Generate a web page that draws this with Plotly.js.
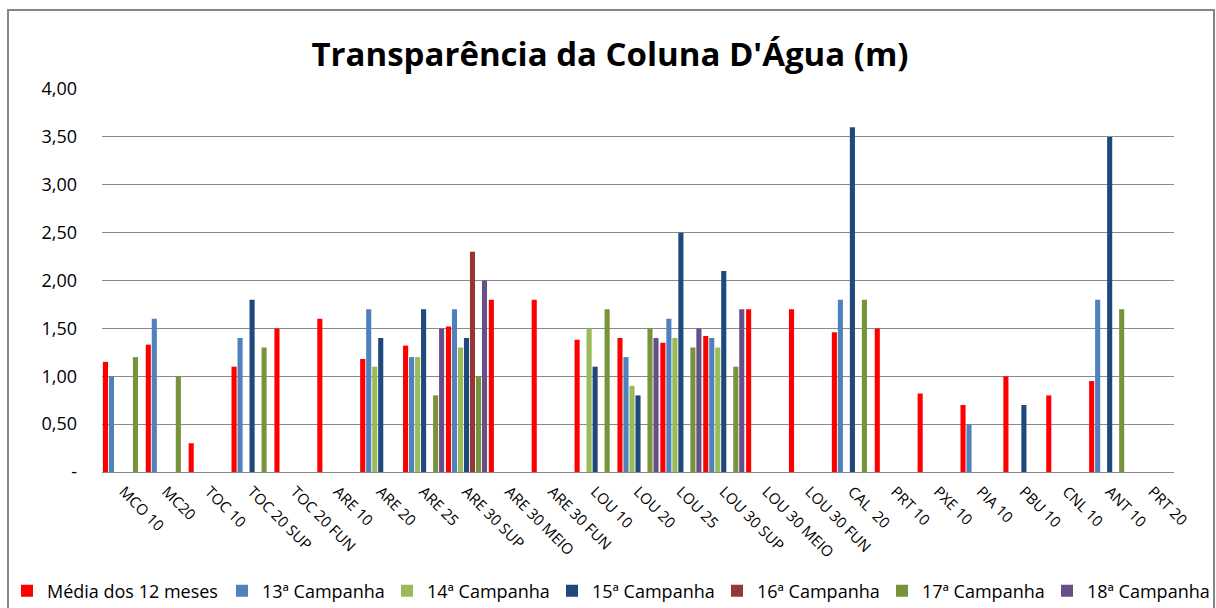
<!DOCTYPE html>
<html>
<head>
<meta charset="utf-8">
<script src="https://cdn.plot.ly/plotly-3.0.1.min.js"></script>
<style>
  html, body { margin: 0; padding: 0; background: #fff; }
  #chart { width: 1216px; height: 608px; }
</style>
</head>
<body>
<div id="chart"></div>
<script>
const categories = ["MCO 10", "MC20", "TOC 10", "TOC 20 SUP", "TOC 20 FUN", "ARE 10", "ARE 20", "ARE 25",
  "ARE 30 SUP", "ARE 30 MEIO", "ARE 30 FUN", "LOU 10", "LOU 20", "LOU 25", "LOU 30 SUP", "LOU 30 MEIO",
  "LOU 30 FUN", "CAL  20", "PRT 10", "PXE 10", "PIA 10", "PBU 10", "CNL 10", "ANT 10", "PRT 20"];

const media12 = [1.15, 1.33, 0.30, 1.10, 1.50, 1.60, 1.18, 1.32, 1.52, 1.80, 1.80, 1.38, 1.40, 1.35, 1.42, 1.70,
  1.70, 1.46, 1.50, 0.82, 0.70, 1.00, 0.80, 0.95, null];
const camp13 = [1.00, 1.60, null, 1.40, null, null, 1.70, 1.20, 1.70, null, null, null, 1.20, 1.60, 1.40, null,
  null, 1.80, null, null, 0.50, null, null, 1.80, null];
const camp14 = [null, null, null, null, null, null, 1.10, 1.20, 1.30, null, null, 1.50, 0.90, 1.40, 1.30, null,
  null, null, null, null, null, null, null, null, null];
const camp15 = [null, null, null, 1.80, null, null, 1.40, 1.70, 1.40, null, null, 1.10, 0.80, 2.50, 2.10, null,
  null, 3.60, null, null, null, 0.70, null, 3.50, null];
const camp16 = [null, null, null, null, null, null, null, null, 2.30, null, null, null, null, null, null, null,
  null, null, null, null, null, null, null, null, null];
const camp17 = [1.20, 1.00, null, 1.30, null, null, null, 0.80, 1.00, null, null, 1.70, 1.50, 1.30, 1.10, null,
  null, 1.80, null, null, null, null, null, 1.70, null];
const camp18 = [null, null, null, null, null, null, null, 1.50, 2.00, null, null, null, 1.40, 1.50, 1.70, null,
  null, null, null, null, null, null, null, null, null];

const seriesNames = ["Média dos 12 meses", "13ª Campanha", "14ª Campanha", "15ª Campanha",
  "16ª Campanha", "17ª Campanha", "18ª Campanha"];
const seriesValues = [media12, camp13, camp14, camp15, camp16, camp17, camp18];
const seriesColors = ["#FF0000", "#4F81BD", "#9BBB59", "#1F497D", "#953735", "#77933C", "#664E87"];

const yTickVals = [0, 0.5, 1, 1.5, 2, 2.5, 3, 3.5, 4];
const yTickText = ["-", "0,50", "1,00", "1,50", "2,00", "2,50", "3,00", "3,50", "4,00"];

const traces = seriesValues.map((vals, i) => ({
  type: "bar",
  name: seriesNames[i],
  x: categories,
  y: vals,
  legend: i === 0 ? "legend" : "legend2",
  marker: { color: seriesColors[i] },
  hoverinfo: "x+y+name"
}));

const FONT = "'Open Sans', sans-serif";
const L = 102, R = 42, T = 89, B = 136;
const W = 1216, H = 608;
const pw = W - L - R, ph = H - T - B;
const px = v => (v - L) / pw;
const py = v => (H - B - v) / ph;

const legendBase = {
  orientation: "h",
  xref: "container", yref: "container",
  y: 1 - 591 / H, xanchor: "left", yanchor: "middle",
  font: { family: FONT, size: 18, color: "#000" },
  itemwidth: 30,
  bgcolor: "rgba(0,0,0,0)"
};

const layout = {
  width: W, height: H,
  margin: { l: L, r: R, t: T, b: B, pad: 0, autoexpand: false },
  paper_bgcolor: "#fff",
  plot_bgcolor: "#fff",
  font: { family: FONT, color: "#000", size: 16 },
  title: {
    text: "<b>Transparência da Coluna D'Água (m)</b>",
    font: { family: FONT, size: 33, color: "#000" },
    xref: "container", yref: "container",
    x: 610 / W, y: 1 - 54 / H, xanchor: "center", yanchor: "middle"
  },
  barmode: "group",
  bargap: 0.02,
  bargroupgap: 0.15,
  showlegend: true,
  legend: Object.assign({}, legendBase, { x: 7 / W }),
  legend2: Object.assign({}, legendBase, { x: 222 / W, entrywidth: 120, entrywidthmode: "pixels" }),
  xaxis: {
    type: "category",
    range: [-0.5, categories.length - 0.5],
    tickangle: 45,
    ticks: "",
    ticklabelstandoff: 4,
    showline: true, linecolor: "#868686", linewidth: 1,
    showgrid: false,
    tickfont: { family: FONT, size: 15, color: "#000" },
    automargin: false
  },
  yaxis: {
    range: [0, 4],
    tickvals: yTickVals,
    ticktext: yTickText,
    showgrid: true, gridcolor: "#8a8a8a", gridwidth: 1,
    zeroline: false,
    showline: false,
    ticks: "",
    ticklabelstandoff: 24,
    tickfont: { family: FONT, size: 18, color: "#000" },
    automargin: false
  },
  shapes: [{
    type: "rect", xref: "paper", yref: "paper",
    x0: px(8), x1: px(1214), y0: py(620), y1: py(10),
    line: { color: "#868686", width: 2 },
    fillcolor: "rgba(0,0,0,0)",
    layer: "below"
  }]
};

Plotly.newPlot("chart", traces, layout, { displayModeBar: false, responsive: false });
</script>
</body>
</html>
